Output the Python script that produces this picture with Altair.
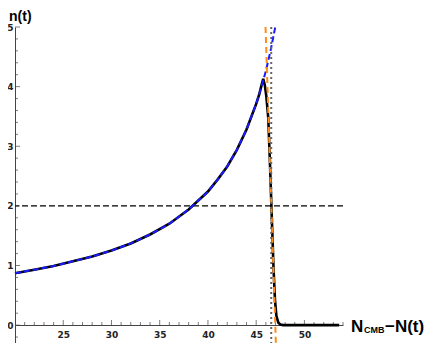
import altair as alt
import pandas as pd

# ---- data ----
black_x = [20, 22, 24, 26, 28, 30, 32, 34, 36, 38, 40, 41, 42, 43, 44, 45, 45.3, 45.55,
           45.73, 45.9, 46.05, 46.25, 46.4, 46.6, 46.8, 46.95, 47.1, 47.3, 47.5, 47.8, 50, 53.6]
black_n = [0.87, 0.93, 0.99, 1.07, 1.15, 1.25, 1.37, 1.52, 1.70, 1.94, 2.24, 2.44, 2.66, 2.94,
           3.28, 3.71, 3.86, 4.02, 4.13, 4.02, 3.84, 3.48, 2.85, 1.9, 0.95, 0.42, 0.15, 0.04,
           0.01, 0.0, 0.0, 0.0]

blue_x = [20, 22, 24, 26, 28, 30, 32, 34, 36, 38, 40, 41, 42, 43, 44, 45, 45.5, 46, 46.5, 46.98]
blue_n = [0.87, 0.93, 0.99, 1.07, 1.15, 1.25, 1.37, 1.52, 1.70, 1.94, 2.24, 2.44, 2.66, 2.94,
          3.28, 3.71, 3.97, 4.26, 4.61, 5.0]

orange_x = [45.97, 47.04]
orange_n = [5.0, -0.3]

dotted_x = [46.56]
dotted_n_top = [5.0]
dotted_n_bottom = [-0.3]

hline_n = [2.0]

x_major_ticks = [25, 30, 35, 40, 45, 50]
x_minor_ticks = [t for t in range(21, 55) if t % 5 != 0]
y_major_ticks = [0, 1, 2, 3, 4, 5]
y_minor_ticks = [round(-0.2 + 0.2 * i, 1) for i in range(0, 27)]
y_minor_ticks = [v for v in y_minor_ticks if abs(v - round(v)) > 1e-6]

# ---- scales / axes ----
xs = alt.Scale(domain=[20, 54], nice=False, zero=False)
ys = alt.Scale(domain=[-0.3, 5], nice=False, zero=False)

lab = dict(labelFont="DejaVu Sans", labelFontWeight="bold", labelFontSize=9,
           labelColor="#222222", domainColor="#444444", domainWidth=1, grid=False,
           ticks=False, title=None, labelFlush=False)
xaxis = alt.Axis(values=x_major_ticks, labelPadding=5, offset=-18, **lab)
yaxis = alt.Axis(values=y_major_ticks, labelPadding=2, **lab)

X = alt.X("x:Q", scale=xs, axis=xaxis)
Y = alt.Y("n:Q", scale=ys, axis=yaxis)

black_df = pd.DataFrame({"x": black_x, "n": black_n})
blue_df = pd.DataFrame({"x": blue_x, "n": blue_n})
orange_df = pd.DataFrame({"x": orange_x, "n": orange_n})
dotted_df = pd.DataFrame({"x": dotted_x, "n": dotted_n_top, "n2": dotted_n_bottom})
hline_df = pd.DataFrame({"n": hline_n})

hline = alt.Chart(hline_df).mark_rule(color="black", strokeWidth=1.1, strokeDash=[6, 3]).encode(
    y=Y
)

black = alt.Chart(black_df).mark_line(color="black", strokeWidth=2.6).encode(x=X, y=Y)
blue = alt.Chart(blue_df).mark_line(color="#1a1aff", strokeWidth=2, strokeDash=[6, 3]).encode(
    x=X, y=Y
)
orange = alt.Chart(orange_df).mark_line(color="#ff8c1a", strokeWidth=2, strokeDash=[6, 4]).encode(
    x=X, y=Y
)
dotted = alt.Chart(dotted_df).mark_rule(color="#666666", strokeWidth=2, strokeDash=[2, 3]).encode(
    x=X, y=Y, y2="n2:Q"
)

tick_color = "#444444"
xmaj = alt.Chart(pd.DataFrame({"x": x_major_ticks})).mark_tick(
    orient="vertical", size=5, thickness=1, yOffset=-2.5, color=tick_color
).encode(x=X, y=alt.YDatum(0, scale=ys, axis=yaxis))
xmin = alt.Chart(pd.DataFrame({"x": x_minor_ticks})).mark_tick(
    orient="vertical", size=3, thickness=1, yOffset=-1.5, color=tick_color
).encode(x=X, y=alt.YDatum(0, scale=ys, axis=yaxis))
ymaj = alt.Chart(pd.DataFrame({"n": y_major_ticks})).mark_tick(
    orient="horizontal", size=5, thickness=1, xOffset=2.5, color=tick_color
).encode(y=Y, x=alt.XDatum(20, scale=xs, axis=xaxis))
ymin = alt.Chart(pd.DataFrame({"n": y_minor_ticks})).mark_tick(
    orient="horizontal", size=3, thickness=1, xOffset=1.5, color=tick_color
).encode(y=Y, x=alt.XDatum(20, scale=xs, axis=xaxis))

tf = dict(font="Liberation Sans", fontWeight="bold", color="black", align="left",
          baseline="alphabetic")
ytitle = alt.Chart(pd.DataFrame({"t": ["n(t)"]})).mark_text(
    fontSize=14, font="Liberation Sans", fontWeight="bold", color="black", align="left",
    baseline="top"
).encode(text="t:N", x=alt.value(-6), y=alt.value(-17))
xt1 = alt.Chart(pd.DataFrame({"t": ["N"]})).mark_text(fontSize=17, **tf).encode(
    text="t:N", x=alt.value(336), y=alt.value(305)
)
xt2 = alt.Chart(pd.DataFrame({"t": ["CMB"]})).mark_text(fontSize=9, **tf).encode(
    text="t:N", x=alt.value(349), y=alt.value(306)
)
xt3 = alt.Chart(pd.DataFrame({"t": ["\u2212N(t)"]})).mark_text(fontSize=17, **tf).encode(
    text="t:N", x=alt.value(370), y=alt.value(305)
)

chart = alt.layer(
    hline, xmin, xmaj, ymin, ymaj, black, blue, orange, dotted, ytitle, xt1, xt2, xt3
).properties(
    width=328, height=316, autosize=alt.AutoSizeParams(type="none"),
    padding={"left": 7, "top": 19, "right": 85, "bottom": 0}
).configure_view(stroke=None)

chart.save("out.html", embed_options={"renderer": "svg", "actions": False})
